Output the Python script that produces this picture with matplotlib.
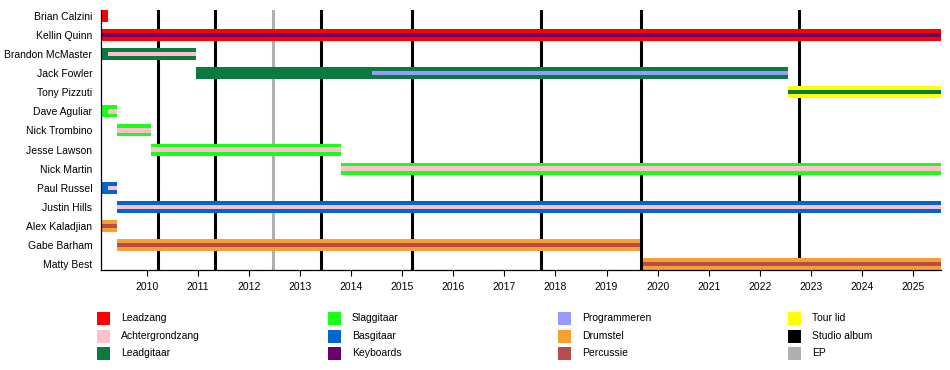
import matplotlib
matplotlib.use("Agg")
import matplotlib.pyplot as plt
from matplotlib.patches import Rectangle

plt.rcParams['font.family'] = ['Liberation Sans', 'DejaVu Sans']

# timeline range (decimal years)
start = 2009.10
end = 2025.54

members = ["Brian Calzini", "Kellin Quinn", "Brandon McMaster", "Jack Fowler",
           "Tony Pizzuti", "Dave Aguliar", "Nick Trombino", "Jesse Lawson",
           "Nick Martin", "Paul Russel", "Justin Hills", "Alex Kaladjian",
           "Gabe Barham", "Matty Best"]

roles = ["Leadzang", "Achtergrondzang", "Leadgitaar", "Slaggitaar", "Basgitaar",
         "Keyboards", "Programmeren", "Drumstel", "Percussie", "Tour lid",
         "Studio album", "EP"]
role_colors = ["#ff0000", "#ffc0cb", "#0a7a3e", "#19ff19", "#0066cc",
               "#6a006a", "#9999ff", "#f7a030", "#b84c4c", "#ffff00",
               "#000000", "#b0b0b0"]

# main bars
bar_member = ["Brian Calzini", "Kellin Quinn", "Brandon McMaster", "Jack Fowler",
              "Tony Pizzuti", "Dave Aguliar", "Nick Trombino", "Jesse Lawson",
              "Nick Martin", "Paul Russel", "Justin Hills", "Alex Kaladjian",
              "Gabe Barham", "Matty Best"]
bar_role = ["Leadzang", "Leadzang", "Leadgitaar", "Leadgitaar", "Tour lid",
            "Slaggitaar", "Slaggitaar", "Slaggitaar", "Slaggitaar", "Basgitaar",
            "Basgitaar", "Drumstel", "Drumstel", "Drumstel"]
bar_start = [start, start, start, 2010.96, 2022.55, start, 2009.42, 2010.08,
             2013.80, start, 2009.42, start, 2009.42, 2019.72]
bar_end = [2009.25, end, 2010.96, 2022.55, end, 2009.42, 2010.08, 2013.80,
           end, 2009.42, end, 2009.42, 2019.66, end]

# secondary roles (thin stripes)
stripe_member = ["Kellin Quinn", "Brandon McMaster", "Jack Fowler", "Tony Pizzuti",
                 "Dave Aguliar", "Nick Trombino", "Jesse Lawson", "Nick Martin",
                 "Paul Russel", "Justin Hills", "Alex Kaladjian", "Gabe Barham",
                 "Matty Best"]
stripe_role = ["Keyboards", "Achtergrondzang", "Programmeren", "Leadgitaar",
               "Achtergrondzang", "Achtergrondzang", "Achtergrondzang",
               "Achtergrondzang", "Achtergrondzang", "Achtergrondzang",
               "Percussie", "Percussie", "Percussie"]
stripe_start = [start, 2009.25, 2014.41, 2022.55, 2009.25, 2009.42, 2010.08,
                2013.80, 2009.25, 2009.42, start, 2009.42, 2019.72]
stripe_end = [end, 2010.96, 2022.55, end, 2009.42, 2010.08, 2013.80, end,
              2009.42, end, 2009.42, 2019.66, end]

# releases
studio_albums = [2010.22, 2011.34, 2013.41, 2015.19, 2017.72, 2019.67, 2022.76]
eps = [2012.47]

years = list(range(2010, 2026))

color_of = dict(zip(roles, role_colors))
row_of = {m: i for i, m in enumerate(members)}

fig = plt.figure(figsize=(9.5, 3.7), dpi=100)
ax = fig.add_axes([100.7 / 950, 1 - 270 / 370, 840 / 950, 260 / 370])

for x in studio_albums:
    ax.axvline(x, color=color_of["Studio album"], lw=2.2, zorder=1)
for x in eps:
    ax.axvline(x, color=color_of["EP"], lw=2.2, zorder=1)

for m, r, s, e in zip(bar_member, bar_role, bar_start, bar_end):
    ax.barh(row_of[m], e - s, left=s, height=0.63, color=color_of[r],
            linewidth=0, zorder=2)
for m, r, s, e in zip(stripe_member, stripe_role, stripe_start, stripe_end):
    ax.barh(row_of[m], e - s, left=s, height=0.22, color=color_of[r],
            linewidth=0, zorder=3)

ax.set_xlim(start, end)
ax.set_ylim(len(members) - 1 + 0.32, -0.32)
ax.set_yticks(range(len(members)))
ax.set_yticklabels(members, fontsize=7.5)
ax.set_xticks(years)
ax.set_xticklabels([str(y) for y in years], fontsize=7.5)
ax.tick_params(axis='y', length=0, pad=6)
ax.tick_params(axis='x', direction='out', length=4, width=0.8, pad=5)
for side in ["top", "right"]:
    ax.spines[side].set_visible(False)
for side in ["left", "bottom"]:
    ax.spines[side].set_linewidth(0.9)
    ax.spines[side].set_zorder(4)

# legend, 4 columns of 3 entries, drawn in figure pixels
col_x = [97, 328, 558, 788]
row_y = [318, 336, 353]
for i, (lab, col) in enumerate(zip(roles, role_colors)):
    cx = col_x[i // 3]
    cy = row_y[i % 3]
    fig.add_artist(Rectangle(((cx) / 950, 1 - (cy + 6.5) / 370), 12.5 / 950, 13 / 370,
                             transform=fig.transFigure, color=col, lw=0))
    fig.text((cx + 24) / 950, 1 - cy / 370, lab, fontsize=7.5, va='center', ha='left')

fig.savefig("out.png", dpi=100)
